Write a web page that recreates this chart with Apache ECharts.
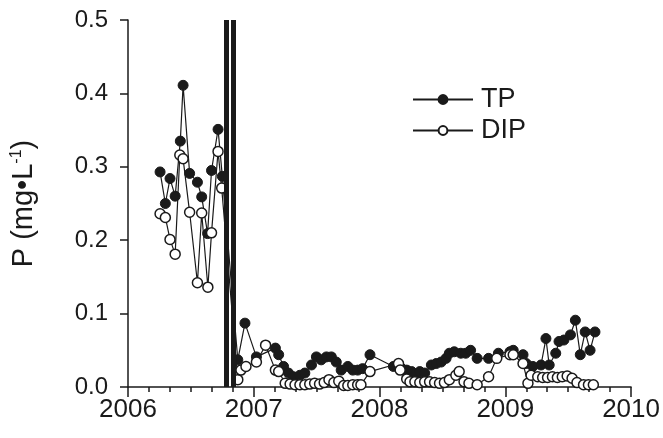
<!DOCTYPE html>
<html>
<head>
<meta charset="utf-8">
<script src="https://cdn.jsdelivr.net/npm/echarts@6/dist/echarts.min.js"></script>
<style>
  html, body { margin: 0; padding: 0; background: #fff; }
  #chart { width: 663px; height: 438px; }
</style>
</head>
<body>
<div id="chart"></div>
<script>
// Sampling dates (decimal years) and concentrations (mg/L)
var tpDates = [
  2006.255, 2006.297, 2006.334, 2006.375, 2006.416, 2006.438, 2006.490, 2006.552, 2006.586,
  2006.633, 2006.664, 2006.716, 2006.750,
  2006.873, 2006.930, 2007.021, 2007.172, 2007.198, 2007.237, 2007.276, 2007.315, 2007.367,
  2007.406, 2007.459, 2007.498, 2007.536, 2007.578, 2007.617, 2007.656, 2007.695, 2007.748,
  2007.787, 2007.826, 2007.865, 2007.924, 2008.110, 2008.177, 2008.216, 2008.255, 2008.281,
  2008.320, 2008.359, 2008.412, 2008.451, 2008.490, 2008.529, 2008.555, 2008.594, 2008.646,
  2008.685, 2008.724, 2008.776, 2008.867, 2008.945, 2009.037, 2009.063, 2009.141, 2009.166,
  2009.219, 2009.284, 2009.323, 2009.349, 2009.401, 2009.427, 2009.466, 2009.518, 2009.557,
  2009.596, 2009.635, 2009.674, 2009.713
];
var tpValues = [
  0.293, 0.250, 0.284, 0.260, 0.335, 0.411, 0.291, 0.279, 0.259,
  0.209, 0.295, 0.351, 0.287,
  0.037, 0.087, 0.041, 0.053, 0.044, 0.028, 0.019, 0.014, 0.016,
  0.019, 0.030, 0.041, 0.037, 0.041, 0.041, 0.034, 0.023, 0.028,
  0.023, 0.023, 0.025, 0.044, 0.028, 0.025, 0.023, 0.021, 0.016,
  0.021, 0.019, 0.030, 0.032, 0.034, 0.039, 0.046, 0.048, 0.046,
  0.046, 0.050, 0.039, 0.039, 0.046, 0.048, 0.050, 0.044, 0.032,
  0.028, 0.030, 0.066, 0.030, 0.046, 0.062, 0.064, 0.071, 0.091,
  0.044, 0.075, 0.050, 0.075
];

var dipDates = [
  2006.255, 2006.297, 2006.334, 2006.375, 2006.412, 2006.438, 2006.490, 2006.552, 2006.586,
  2006.635, 2006.664, 2006.716, 2006.745,
  2006.873, 2006.898, 2006.938, 2007.021, 2007.094, 2007.172, 2007.198, 2007.250, 2007.289,
  2007.328, 2007.367, 2007.406, 2007.445, 2007.484, 2007.523, 2007.560, 2007.598, 2007.637,
  2007.676, 2007.715, 2007.748, 2007.787, 2007.826, 2007.852, 2007.924, 2008.151, 2008.164,
  2008.216, 2008.242, 2008.281, 2008.320, 2008.359, 2008.398, 2008.438, 2008.477, 2008.516,
  2008.555, 2008.607, 2008.633, 2008.672, 2008.711, 2008.776, 2008.867, 2008.932, 2009.037,
  2009.063, 2009.141, 2009.180, 2009.205, 2009.258, 2009.297, 2009.336, 2009.375, 2009.414,
  2009.453, 2009.492, 2009.531, 2009.570, 2009.622, 2009.661, 2009.700
];
var dipValues = [
  0.236, 0.231, 0.201, 0.181, 0.316, 0.311, 0.238, 0.142, 0.237,
  0.136, 0.210, 0.321, 0.271,
  0.010, 0.023, 0.028, 0.034, 0.057, 0.023, 0.021, 0.005, 0.004,
  0.003, 0.003, 0.003, 0.004, 0.005, 0.004, 0.006, 0.010, 0.006,
  0.008, 0.002, 0.002, 0.003, 0.003, 0.003, 0.021, 0.032, 0.023,
  0.011, 0.007, 0.007, 0.006, 0.007, 0.007, 0.006, 0.005, 0.006,
  0.010, 0.016, 0.021, 0.007, 0.005, 0.003, 0.014, 0.039, 0.044,
  0.044, 0.032, 0.005, 0.016, 0.014, 0.013, 0.013, 0.014, 0.013,
  0.014, 0.015, 0.012, 0.006, 0.003, 0.003, 0.003
];

// Event markers (decimal years)
var eventDates = [2006.778, 2006.835];

var yearTicks = [2006, 2007, 2008, 2009, 2010];
var pTicks = [0, 0.1, 0.2, 0.3, 0.4, 0.5];

function pairs(xs, ys) {
  return xs.map(function (x, i) { return [x, ys[i]]; });
}

var FONT = '"Liberation Sans", Arial, Helvetica, sans-serif';
var INK = '#1a1a1a';

var chart = echarts.init(document.getElementById('chart'), null, { renderer: 'canvas' });

chart.setOption({
  animation: false,
  backgroundColor: '#ffffff',
  textStyle: { fontFamily: FONT, color: INK },
  grid: { left: 128, right: 23, top: 20, bottom: 51, containLabel: false },
  legend: {
    orient: 'vertical',
    left: 407,
    top: 81,
    itemWidth: 60,
    itemHeight: 11,
    itemGap: 4,
    textStyle: { fontFamily: FONT, fontSize: 27, color: INK, padding: [0, 0, 0, 3] },
    data: ['TP', 'DIP']
  },
  xAxis: {
    type: 'value',
    min: yearTicks[0],
    max: yearTicks[yearTicks.length - 1],
    interval: 1,
    splitLine: { show: false },
    axisLine: { lineStyle: { color: INK, width: 1.5 } },
    axisTick: { length: 10, lineStyle: { color: INK, width: 1.5 } },
    minorTick: { show: true, splitNumber: 6, length: 5, lineStyle: { color: INK, width: 1.5 } },
    axisLabel: { fontFamily: FONT, fontSize: 26, color: INK, margin: 10,
      formatter: function (v) { return String(Math.round(v)); } }
  },
  yAxis: {
    type: 'value',
    min: pTicks[0],
    max: pTicks[pTicks.length - 1],
    interval: 0.1,
    splitLine: { show: false },
    axisLine: { show: true, lineStyle: { color: INK, width: 1.5 } },
    axisTick: { show: true, length: 8, lineStyle: { color: INK, width: 1.5 } },
    axisLabel: { fontFamily: FONT, fontSize: 24, color: INK, margin: 20,
      formatter: function (v) { return v.toFixed(1); } },
    name: '{b|P (mg•L}{sup|-1}{b|)}',
    nameLocation: 'middle',
    nameRotate: 90,
    nameGap: 90,
    nameTextStyle: {
      fontFamily: FONT, fontSize: 29, color: INK,
      rich: {
        b: { fontFamily: FONT, fontSize: 29, color: INK },
        sup: { fontFamily: FONT, fontSize: 16, color: INK, verticalAlign: 'top', padding: [0, 0, 12, 0] }
      }
    }
  },
  series: [
    {
      name: 'TP',
      type: 'line',
      data: pairs(tpDates, tpValues),
      symbol: 'circle',
      symbolSize: 10,
      itemStyle: { color: INK, borderColor: INK, borderWidth: 1 },
      lineStyle: { color: INK, width: 1.2 },
      z: 2,
      markLine: {
        silent: true,
        symbol: 'none',
        label: { show: false },
        lineStyle: { color: INK, width: 5, type: 'solid' },
        data: eventDates.map(function (d) { return { xAxis: d }; })
      }
    },
    {
      name: 'DIP',
      type: 'line',
      data: pairs(dipDates, dipValues),
      symbol: 'circle',
      symbolSize: 10,
      itemStyle: { color: '#ffffff', borderColor: INK, borderWidth: 1.5 },
      lineStyle: { color: INK, width: 1.2 },
      z: 3
    }
  ]
});
</script>
</body>
</html>
